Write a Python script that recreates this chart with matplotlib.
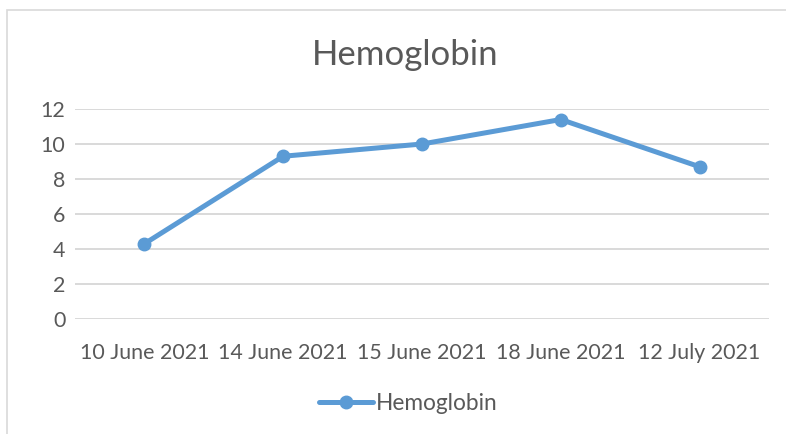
import matplotlib.pyplot as plt
from matplotlib.patches import Rectangle

plt.rcParams['font.family'] = ['Lato', 'DejaVu Sans']

# data
dates = ['10 June 2021', '14 June 2021', '15 June 2021', '18 June 2021', '12 July 2021']
hemoglobin = [4.3, 9.3, 10.0, 11.4, 8.7]
yticks = [0, 2, 4, 6, 8, 10, 12]

line_col = '#5B9BD5'
grid_col = '#D9D9D9'
text_col = '#595959'

fig = plt.figure(figsize=(7.86, 4.34), dpi=100)
W, H = 786, 434

# chart area border (cropped on right and bottom)
fig.patches.append(Rectangle((7 / W, -0.1), 1.2, (H - 10) / H + 0.1,
                             transform=fig.transFigure, fill=False,
                             edgecolor=grid_col, linewidth=1.2))

ax = fig.add_axes([75 / W, (H - 319) / H, (769 - 75) / W, 210 / H])
x = list(range(len(dates)))
ax.plot(x, hemoglobin, color=line_col, linewidth=3.6, marker='o',
        markersize=9, solid_capstyle='round', label='Hemoglobin')

ax.set_xlim(-0.5, len(dates) - 0.5)
ax.set_ylim(0, 12)
ax.set_yticks(yticks)
ax.set_xticks(x)
ax.set_xticklabels(dates)
ax.grid(axis='y', color=grid_col, linewidth=1.4)
ax.set_axisbelow(True)
for s in ax.spines.values():
    s.set_visible(False)
ax.tick_params(length=0, labelsize=15.4, colors=text_col)
ax.tick_params(axis='x', pad=17)
ax.tick_params(axis='y', pad=7)

fig.text(405 / W, 1 - 55 / H, 'Hemoglobin', ha='center', va='center',
         fontsize=25, color=text_col)

leg = fig.legend(loc='center', bbox_to_anchor=(408 / W, 1 - 403 / H),
                 frameon=False, fontsize=16.3, handlelength=2.4,
                 handletextpad=0.1)
for t in leg.get_texts():
    t.set_color(text_col)

fig.savefig('out.png', dpi=100)
